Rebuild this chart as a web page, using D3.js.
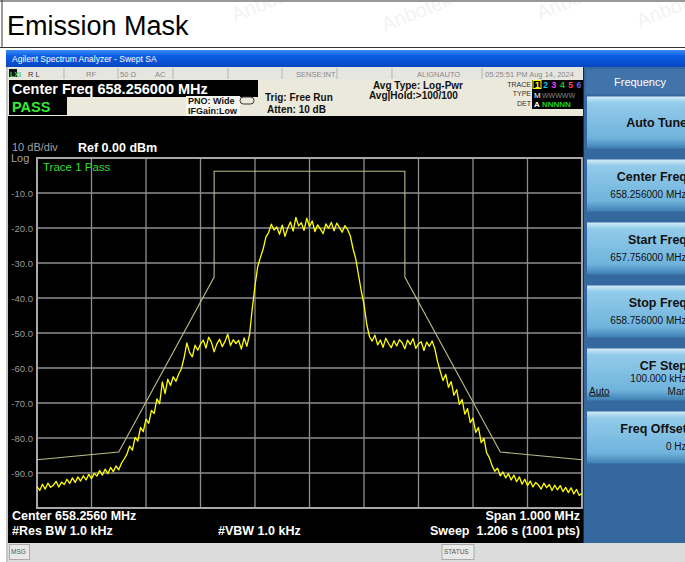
<!DOCTYPE html>
<html>
<head>
<meta charset="utf-8">
<script src="https://cdn.jsdelivr.net/npm/d3@7"></script>
<style>
  body { margin: 0; background: #fff; }
  svg text { font-family: "Liberation Sans", Arial, sans-serif; }
</style>
</head>
<body>
<div id="chart"></div>
<script>
const width = 685;
const height = 562;

// sweep: 657.756 .. 658.756 MHz, offsets from centre in kHz
const centerFreq = "658.256000 MHz";
const freqStartKHz = -500;
const freqStepKHz = 5;

// trace 1 (dBm), every 5 kHz
const traceLevels = [
  -93.8, -95.0, -93.2, -94.6, -92.9, -94.1, -93.5, -92.4, -94.0, -92.6,
  -93.3, -91.8, -93.0, -91.4, -92.7, -91.1, -92.3, -90.8, -92.0, -90.4,
  -91.6, -90.1, -90.9, -89.3, -90.6, -88.9, -90.2, -88.4, -89.6, -88.0,
  -89.1,
  -87.2, -86.0, -84.6, -82.3, -83.5, -79.8, -80.9, -77.0, -78.2, -74.6,
  -75.8, -72.1, -73.0, -68.8, -70.2, -64.0, -67.3, -63.2, -65.0, -62.5,
  -63.8, -61.7, -60.2, -57.0, -52.8,
  -55.6, -56.8, -53.5, -54.9, -53.2, -52.0, -54.3, -51.2, -52.6, -55.4,
  -53.1, -51.8, -53.9, -52.4, -50.3, -53.6, -51.9, -53.0, -52.1, -54.6,
  -51.4, -53.8, -50.5,
  -43.0, -36.5, -31.0, -28.4, -26.0, -22.6, -21.3, -18.9, -20.6, -19.7,
  -21.8, -19.2, -22.4, -20.0, -18.3, -20.9, -17.0, -19.4, -18.5, -20.7,
  -17.2, -19.6, -18.0, -21.0, -19.1, -20.3, -21.6, -18.8, -20.1, -18.4,
  -20.8, -18.6, -19.9, -21.2, -19.3, -20.5, -22.3,
  -26.0, -28.9, -33.5, -38.0, -41.8, -47.5, -51.0,
  -52.3, -50.6, -53.4, -52.0, -54.1, -51.5, -53.0, -54.2, -52.2, -53.7,
  -51.9, -52.8, -54.5, -52.0, -53.3, -51.6, -54.4, -53.1, -52.5, -55.0,
  -52.6, -53.8, -52.3, -54.5,
  -58.2, -61.0, -63.6, -61.8, -65.5, -63.9, -67.8, -66.2, -70.4, -69.0,
  -73.2, -71.6, -75.6, -74.3, -78.4, -77.0, -81.3, -80.1, -84.2, -85.6,
  -87.9, -89.5, -88.6, -90.8, -89.7, -91.4, -90.2, -92.0, -90.6, -92.5,
  -91.1, -93.2, -91.8, -93.6, -92.3, -94.0, -92.7, -93.4, -94.6, -92.9,
  -94.2, -93.3, -95.0, -93.5, -94.8, -93.6, -95.3, -94.1, -95.6, -94.2,
  -96.0, -94.7, -96.4, -95.8
];

// emission mask limit line
const maskFreqKHz = [-500, -350, -175, -175, 175, 175, 350, 500];
const maskLevels = [-86.2, -84.0, -34.0, -3.8, -3.8, -34.0, -84.0, -86.2];

const yTicks = [-10, -20, -30, -40, -50, -60, -70, -80, -90];

const softkeys = [
  { label: "Auto Tune", value: "" },
  { label: "Center Freq", value: "658.256000 MHz" },
  { label: "Start Freq", value: "657.756000 MHz" },
  { label: "Stop Freq", value: "658.756000 MHz" },
  { label: "CF Step", value: "100.000 kHz" },
  { label: "Freq Offset", value: "0 Hz" }
];

const svg = d3.select("#chart").append("svg")
  .attr("width", width)
  .attr("height", height);

const defs = svg.append("defs");
const tb = defs.append("linearGradient").attr("id", "titlebar").attr("x1", 0).attr("y1", 0).attr("x2", 0).attr("y2", 1);
tb.append("stop").attr("offset", "0%").attr("stop-color", "#3d8bf5");
tb.append("stop").attr("offset", "35%").attr("stop-color", "#0b5ee6");
tb.append("stop").attr("offset", "100%").attr("stop-color", "#0846c0");
const bt = defs.append("linearGradient").attr("id", "btn").attr("x1", 0).attr("y1", 0).attr("x2", 0).attr("y2", 1);
bt.append("stop").attr("offset", "0%").attr("stop-color", "#d3ecf8");
bt.append("stop").attr("offset", "12%").attr("stop-color", "#93cbea");
bt.append("stop").attr("offset", "80%").attr("stop-color", "#6fb3dc");
bt.append("stop").attr("offset", "100%").attr("stop-color", "#3f7fb3");

// page title + frame lines
svg.append("line").attr("x1", 0).attr("x2", width).attr("y1", 1).attr("y2", 1).attr("stroke", "#333");
svg.append("line").attr("x1", 2).attr("x2", 2).attr("y1", 0).attr("y2", 48).attr("stroke", "#333");
svg.append("line").attr("x1", 0).attr("x2", width).attr("y1", 47.5).attr("y2", 47.5).attr("stroke", "#333");
svg.append("text").attr("x", 7).attr("y", 35)
  .style("font-size", "27px").attr("fill", "#000").text("Emission Mask");

// instrument window
svg.append("rect").attr("x", 6).attr("y", 50).attr("width", width - 6).attr("height", 512).attr("fill", "#c8c8c8");
svg.append("rect").attr("x", 6).attr("y", 50).attr("width", width - 6).attr("height", 17).attr("fill", "url(#titlebar)");
svg.append("text").attr("x", 12).attr("y", 62).attr("fill", "#fff")
  .style("font-size", "8.5px").text("Agilent Spectrum Analyzer - Swept SA");

// status row
svg.append("rect").attr("x", 8).attr("y", 67).attr("width", 575).attr("height", 12).attr("fill", "#e6e6e0");
svg.append("rect").attr("x", 9).attr("y", 69).attr("width", 8).attr("height", 8).attr("fill", "#111");
svg.append("text").attr("x", 10).attr("y", 76.5).attr("fill", "#4ccc2a").style("font-size", "7px").style("font-weight", "bold").text("LXI");
const statusCells = [64, 118, 173, 228, 282, 337, 392, 482];
svg.selectAll(".sep").data(statusCells).enter().append("line")
  .attr("x1", d => d).attr("x2", d => d).attr("y1", 68).attr("y2", 79).attr("stroke", "#b5b5b0");
const statusTexts = [
  { x: 28, t: "R L" }, { x: 86, t: "RF" }, { x: 120, t: "50 Ω" }, { x: 155, t: "AC" },
  { x: 296, t: "SENSE:INT" }, { x: 417, t: "ALIGNAUTO" }, { x: 485, t: "05:25:51 PM Aug 14, 2024" }
];
svg.selectAll(".st").data(statusTexts).enter().append("text")
  .attr("x", d => d.x).attr("y", 76.5).attr("fill", d => d.t === "R L" ? "#333" : "#888")
  .style("font-size", "7.5px").text(d => d.t);

// header rows
svg.append("rect").attr("x", 8).attr("y", 79).attr("width", 575).attr("height", 38).attr("fill", "#ebe9dc");
svg.append("rect").attr("x", 9).attr("y", 80).attr("width", 249).attr("height", 17).attr("fill", "#000");
svg.append("text").attr("x", 12).attr("y", 93.5).attr("fill", "#fff")
  .style("font-size", "14.5px").style("font-weight", "bold").text("Center Freq " + centerFreq);
svg.append("rect").attr("x", 9).attr("y", 97).attr("width", 58).attr("height", 18).attr("fill", "#000");
svg.append("text").attr("x", 12).attr("y", 111.5).attr("fill", "#35e835")
  .style("font-size", "14.5px").style("font-weight", "bold").text("PASS");
svg.append("rect").attr("x", 186).attr("y", 96).attr("width", 54).attr("height", 20).attr("fill", "#f6f6f0");
const hdrSmall = [
  { x: 188, y: 103.5, t: "PNO: Wide", s: 9 },
  { x: 188, y: 113.5, t: "IFGain:Low", s: 9 },
  { x: 265, y: 100.5, t: "Trig: Free Run", s: 10 },
  { x: 267, y: 113, t: "Atten: 10 dB", s: 10 },
  { x: 373, y: 88.5, t: "Avg Type: Log-Pwr", s: 10 },
  { x: 369, y: 98.5, t: "Avg|Hold:>100/100", s: 10 }
];
svg.selectAll(".hs").data(hdrSmall).enter().append("text")
  .attr("x", d => d.x).attr("y", d => d.y).attr("fill", "#111")
  .style("font-size", d => d.s + "px").style("font-weight", "bold").text(d => d.t);
svg.append("rect").attr("x", 240).attr("y", 97).attr("width", 14).attr("height", 7).attr("rx", 3.5)
  .attr("fill", "none").attr("stroke", "#333");

// trace/type/det box
svg.selectAll(".tl").data([["TRACE", 86.5], ["TYPE", 96], ["DET", 105.5]]).enter().append("text")
  .attr("x", 531).attr("y", d => d[1]).attr("text-anchor", "end").attr("fill", "#333")
  .style("font-size", "7px").text(d => d[0]);
svg.append("rect").attr("x", 532).attr("y", 80).attr("width", 51).attr("height", 29).attr("fill", "#000");
const traceColors = ["#ffff00", "#00c8ff", "#ff40ff", "#20c020", "#ff4060", "#6060ff"];
svg.append("rect").attr("x", 533).attr("y", 80.5).attr("width", 8).attr("height", 8).attr("fill", "none").attr("stroke", "#ffff00");
svg.selectAll(".tn").data(traceColors).enter().append("text")
  .attr("x", (d, i) => 535 + i * 8.3).attr("y", 88).attr("fill", d => d)
  .style("font-size", "8.5px").style("font-weight", "bold").text((d, i) => i + 1);
svg.append("text").attr("x", 534).attr("y", 97.5).attr("fill", "#fff").style("font-size", "8px").text("M");
svg.append("text").attr("x", 542).attr("y", 97.5).attr("fill", "#888").style("font-size", "7px").text("WWWWW");
svg.append("text").attr("x", 534).attr("y", 107).attr("fill", "#fff").style("font-size", "8px").style("font-weight", "bold").text("A");
svg.append("text").attr("x", 542).attr("y", 107).attr("fill", "#20d020").style("font-size", "8px").style("font-weight", "bold").text("NNNNN");

// black screen
svg.append("rect").attr("x", 8).attr("y", 116).attr("width", 575).attr("height", 427).attr("fill", "#000");

const plotL = 37, plotR = 582, plotT = 158, plotB = 508;
const x = d3.scaleLinear().domain([-500, 500]).range([plotL, plotR]);
const y = d3.scaleLinear().domain([-100, 0]).range([plotB, plotT]);

svg.append("text").attr("x", 12).attr("y", 151).attr("fill", "#a0a0a0").style("font-size", "11px").text("10 dB/div");
svg.append("text").attr("x", 11).attr("y", 162).attr("fill", "#a0a0a0").style("font-size", "11px").text("Log");
svg.append("text").attr("x", 78).attr("y", 152).attr("fill", "#fff")
  .style("font-size", "12.5px").style("font-weight", "bold").text("Ref 0.00 dBm");

// grid
const grid = svg.append("g");
grid.selectAll(".vg").data(d3.range(-400, 500, 100)).enter().append("line")
  .attr("x1", d => x(d)).attr("x2", d => x(d)).attr("y1", plotT).attr("y2", plotB)
  .attr("stroke", "#8e8e8e").attr("stroke-width", 1.3);
grid.selectAll(".hg").data(yTicks).enter().append("line")
  .attr("x1", plotL).attr("x2", plotR).attr("y1", d => y(d)).attr("y2", d => y(d))
  .attr("stroke", "#8e8e8e").attr("stroke-width", 1.3);
svg.append("rect").attr("x", plotL).attr("y", plotT).attr("width", plotR - plotL).attr("height", plotB - plotT)
  .attr("fill", "none").attr("stroke", "#a8a8a8").attr("stroke-width", 2);

svg.selectAll(".yl").data(yTicks).enter().append("text")
  .attr("x", 33).attr("y", d => y(d) + 3.5).attr("text-anchor", "end")
  .attr("fill", "#9a9a9a").style("font-size", "9.5px").text(d => d.toFixed(1));

svg.append("text").attr("x", 43).attr("y", 171).attr("fill", "#33dd33").style("font-size", "11.5px").text("Trace 1 Pass");

// mask line
const maskPts = maskFreqKHz.map((f, i) => [f, maskLevels[i]]);
svg.append("path").datum(maskPts)
  .attr("d", d3.line().x(d => x(d[0])).y(d => y(d[1])))
  .attr("fill", "none").attr("stroke", "#bcbc86").attr("stroke-width", 1.1);

// trace
const tracePts = traceLevels.map((v, i) => [freqStartKHz + i * freqStepKHz, v]);
svg.append("path").datum(tracePts)
  .attr("d", d3.line().x(d => x(d[0])).y(d => y(d[1])))
  .attr("fill", "none").attr("stroke", "#ffff00").attr("stroke-width", 1.3).attr("stroke-linejoin", "round");

// bottom annotations
const bottomTexts = [
  { x: 12, y: 520, t: "Center 658.2560 MHz", a: "start" },
  { x: 12, y: 535, t: "#Res BW 1.0 kHz", a: "start" },
  { x: 218, y: 535, t: "#VBW 1.0 kHz", a: "start" },
  { x: 580, y: 520, t: "Span 1.000 MHz", a: "end" },
  { x: 580, y: 535, t: "Sweep  1.206 s (1001 pts)", a: "end" }
];
svg.selectAll(".bt").data(bottomTexts).enter().append("text")
  .attr("x", d => d.x).attr("y", d => d.y).attr("text-anchor", d => d.a)
  .attr("fill", "#fff").style("font-size", "12.5px").style("font-weight", "bold")
  .style("white-space", "pre").text(d => d.t);

// message bar
svg.append("rect").attr("x", 8).attr("y", 543).attr("width", width - 8).attr("height", 19).attr("fill", "#dcdcdc");
svg.append("rect").attr("x", 9.5).attr("y", 544.5).attr("width", 20).attr("height", 15).attr("fill", "#e8e8e8").attr("stroke", "#aaa");
svg.append("text").attr("x", 11).attr("y", 554).attr("fill", "#555").style("font-size", "6.5px").text("MSG");
svg.append("rect").attr("x", 442).attr("y", 544.5).attr("width", 32).attr("height", 15).attr("fill", "#e8e8e8").attr("stroke", "#aaa");
svg.append("text").attr("x", 444).attr("y", 554).attr("fill", "#555").style("font-size", "6.5px").text("STATUS");

// right softkey panel
svg.append("rect").attr("x", 583).attr("y", 67).attr("width", 102).attr("height", 476).attr("fill", "#35689e");
svg.append("line").attr("x1", 583.5).attr("x2", 583.5).attr("y1", 67).attr("y2", 543).attr("stroke", "#1a2a40");
svg.append("rect").attr("x", 586).attr("y", 69).attr("width", 99).attr("height", 25).attr("fill", "#4174aa");
svg.append("text").attr("x", 640).attr("y", 85.5).attr("text-anchor", "middle").attr("fill", "#fff")
  .style("font-size", "11px").text("Frequency");

const keyTop = d3.scaleLinear().domain([0, 1]).range([96.5, 159.5]);
const keys = svg.selectAll(".key").data(softkeys).enter().append("g")
  .attr("transform", (d, i) => `translate(587,${keyTop(i)})`);
keys.append("rect").attr("width", 100).attr("height", 52).attr("fill", "url(#btn)");
keys.append("text").attr("x", 100).attr("y", d => d.value ? 21 : 30).attr("text-anchor", "end")
  .attr("fill", "#111").style("font-size", "12.5px").style("font-weight", "bold").text(d => d.label);
keys.append("text").attr("x", 99.5).attr("y", (d, i) => i === 4 ? 33 : 38).attr("text-anchor", "end")
  .attr("fill", "#111").style("font-size", "10px").text(d => d.value);
const cfKey = keys.filter((d, i) => i === 4);
cfKey.append("text").attr("x", 2).attr("y", 46).attr("fill", "#111").style("font-size", "10px")
  .style("text-decoration", "underline").text("Auto");
cfKey.append("text").attr("x", 100).attr("y", 46).attr("text-anchor", "end").attr("fill", "#111")
  .style("font-size", "10px").text("Man");

// faint watermarks
const marks = [[235, 22], [385, 32], [540, 20], [640, 28]];
svg.selectAll(".wm").data(marks).enter().append("text")
  .attr("transform", d => `translate(${d[0]},${d[1]}) rotate(-22)`)
  .attr("fill", "#999").attr("opacity", 0.12).style("font-size", "20px").text("Anbotek");
</script>
</body>
</html>
